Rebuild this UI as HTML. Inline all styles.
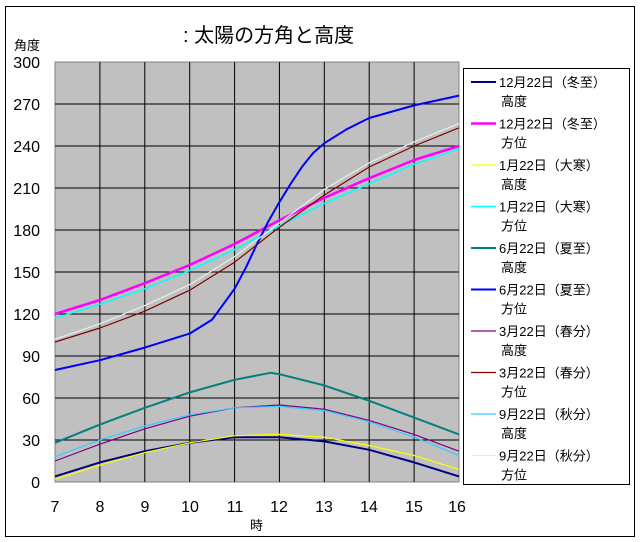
<!DOCTYPE html><html><head><meta charset="utf-8"><style>body{margin:0;background:#fff}svg{display:block}text{font-family:"Liberation Sans","Noto Sans CJK JP",sans-serif}</style></head><body>
<svg width="640" height="542" viewBox="0 0 640 542">
<rect x="5.5" y="6.5" width="629" height="530" fill="#fff" stroke="#000"/>
<text x="183" y="42" font-size="20">: 太陽の方角と高度</text>
<text x="14" y="50" font-size="13">角度</text>
<text x="250" y="530" font-size="13">時</text>
<rect x="55" y="62" width="404" height="420" fill="#c0c0c0" stroke="#808080"/>
<g stroke="#000" stroke-width="1">
<path d="M55 104H459M55 146H459M55 188H459M55 230H459M55 272H459M55 314H459M55 356H459M55 398H459M55 440H459"/>
<path d="M99.9 62V482M144.8 62V482M189.7 62V482M234.6 62V482M279.4 62V482M324.3 62V482M369.2 62V482M414.1 62V482"/>
</g>
<g font-size="16" text-anchor="end">
<text x="40" y="68">300</text><text x="40" y="110">270</text><text x="40" y="152">240</text><text x="40" y="194">210</text><text x="40" y="236">180</text><text x="40" y="278">150</text><text x="40" y="320">120</text><text x="40" y="362">90</text><text x="40" y="404">60</text><text x="40" y="446">30</text><text x="40" y="488">0</text>
</g>
<g font-size="16" text-anchor="middle">
<text x="55" y="512">7</text><text x="100" y="512">8</text><text x="145" y="512">9</text><text x="190" y="512">10</text><text x="235" y="512">11</text><text x="279" y="512">12</text><text x="324" y="512">13</text><text x="369" y="512">14</text><text x="414" y="512">15</text><text x="457" y="512">16</text>
</g>
<g fill="none" stroke-width="1.5" stroke-linejoin="round" id="s"></g>
<rect x="463.5" y="68.5" width="166" height="416" fill="#fff" stroke="#000"/>
<g id="lg" font-size="13"></g>
<script>
var X=function(h){return 55+(h-7)*44.89},Y=function(v){return 482-v*1.4};
var S=[
["#000080",2,[[7,4],[8,14],[9,22],[10,28],[11,32],[12,32],[13,29],[14,23],[15,14],[16,4]],"12月22日（冬至）","高度"],
["#ff00ff",2.5,[[7,120],[8,130],[9,142],[10,155],[11,170],[12,187],[13,203],[14,217],[15,230],[16,240]],"12月22日（冬至）","方位"],
["#ffff00",1.2,[[7,2],[8,12],[9,21],[10,28],[11,33],[12,34],[13,32],[14,26],[15,19],[16,9]],"1月22日（大寒）","高度"],
["#00ffff",1.5,[[7,117],[8,127],[9,138],[10,151],[11,166],[12,183],[13,199],[14,213],[15,227],[16,238]],"1月22日（大寒）","方位"],
["#008080",2,[[7,28],[8,41],[9,53],[10,64],[11,73],[11.8,78],[12,77],[13,69],[14,58],[15,46],[16,34]],"6月22日（夏至）","高度"],
["#0000ff",2,[[7,80],[8,87],[9,96],[10,106],[10.5,116],[11,138],[11.25,153],[11.5,170],[11.75,186],[12,200],[12.25,213],[12.5,225],[12.75,235],[13,242],[13.5,252],[14,260],[15,269],[16,276]],"6月22日（夏至）","方位"],
["#800080",1.2,[[7,15],[8,27],[9,38],[10,47],[11,53],[12,55],[13,52],[14,44],[15,34],[16,22]],"3月22日（春分）","高度"],
["#800000",1.2,[[7,100],[8,110],[9,122],[10,137],[11,157],[12,182],[13,205],[14,225],[15,240],[16,253]],"3月22日（春分）","方位"],
["#33ccff",1.2,[[7,18],[8,30],[9,40],[10,48],[11,53],[12,54],[13,51],[14,43],[15,32],[16,19]],"9月22日（秋分）","高度"],
["#e0f0f0",1.2,[[7,102],[8,113],[9,126],[10,141],[11,161],[12,185],[13,209],[14,228],[15,243],[16,256]],"9月22日（秋分）","方位"]];
var ns="http://www.w3.org/2000/svg",g=document.getElementById("s"),L=document.getElementById("lg");
S.forEach(function(s,i){var p=document.createElementNS(ns,"polyline");p.setAttribute("points",s[2].map(function(q){return X(q[0])+","+Y(q[1])}).join(" "));p.setAttribute("stroke",s[0]);p.setAttribute("stroke-width",s[1]);g.appendChild(p);
var y=82+i*41.5,l=document.createElementNS(ns,"line");l.setAttribute("x1",471);l.setAttribute("x2",496);l.setAttribute("y1",y);l.setAttribute("y2",y);l.setAttribute("stroke",s[0]);l.setAttribute("stroke-width",s[1]);L.appendChild(l);
var t=document.createElementNS(ns,"text");t.setAttribute("x",499);t.setAttribute("y",y+5);t.textContent=s[3];L.appendChild(t);
t=document.createElementNS(ns,"text");t.setAttribute("x",501);t.setAttribute("y",y+24);t.textContent=s[4];L.appendChild(t);});
</script>
</svg></body></html>
